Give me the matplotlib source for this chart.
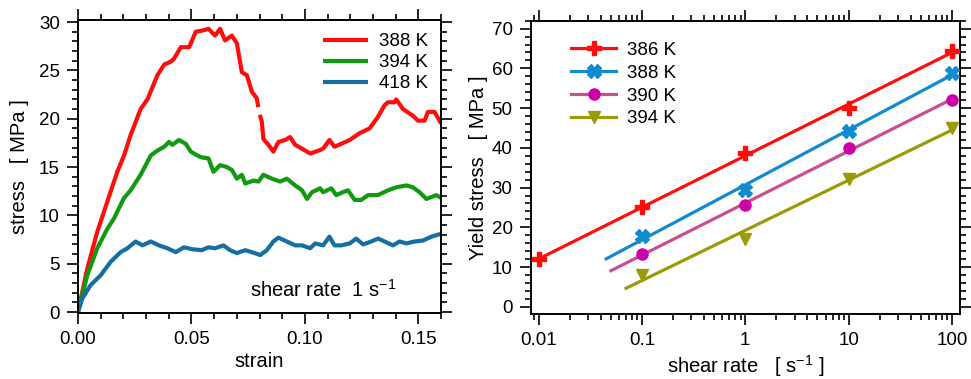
import numpy as np
import matplotlib
matplotlib.use("Agg")
import matplotlib.pyplot as plt
from matplotlib.lines import Line2D
from matplotlib.ticker import MultipleLocator, LogLocator, FixedLocator, NullFormatter

plt.rcParams['font.family'] = ['Liberation Sans', 'DejaVu Sans']

# ---- left panel: stress-strain curves at shear rate 1 s^-1 ----
strain_388 = [0, 0.0041, 0.0085, 0.0129, 0.0173, 0.0203, 0.0232, 0.0276, 0.0306, 0.035, 0.038,
              0.0409, 0.0423, 0.0453, 0.049, 0.0519, 0.0545, 0.0575, 0.0604, 0.0626, 0.0648,
              0.0678, 0.07, 0.0722, 0.0744, 0.0766, 0.0788, 0.0794, 0.0797, 0.0801, 0.081,
              0.0817, 0.0839, 0.0861,
              0.0883, 0.0913, 0.0935, 0.0957, 0.0987, 0.1023, 0.106, 0.108, 0.1108, 0.113, 0.116,
              0.1197, 0.1241, 0.1285, 0.1322, 0.1351, 0.1366, 0.1395, 0.1402, 0.1432, 0.1476,
              0.1498, 0.1527, 0.1542, 0.1571, 0.16]
stress_388 = [0, 4.5, 8.3, 11.4, 14.5, 16.2, 18.3, 21.0, 22.0, 24.5, 25.6,
              25.9, 26.2, 27.4, 27.4, 29.0, 29.1, 29.3, 28.6, 29.3, 28.1,
              28.6, 27.8, 24.8, 24.5, 22.8, 22.1, 21.2, np.nan, 20.4, 19.7,
              17.9, 17.3, 16.6,
              17.6, 17.8, 18.1, 17.3, 16.9, 16.4, 16.7, 16.9, 17.8, 17.1, 17.4,
              17.8, 18.5, 19.0, 20.2, 21.4, 21.7, 21.7, 22.0, 21.0, 20.3,
              19.8, 19.8, 20.7, 20.7, 19.5]

strain_394 = [0, 0.0041, 0.0085, 0.0129, 0.0159, 0.0188, 0.0203, 0.0232, 0.0276, 0.0321, 0.035,
              0.038, 0.0401, 0.0416, 0.0445, 0.0475, 0.0497, 0.0526, 0.0545, 0.0575, 0.0597,
              0.0626, 0.0656, 0.0678, 0.07, 0.0722, 0.0737, 0.0773, 0.0795, 0.0817, 0.0854,
              0.0891, 0.092, 0.0957, 0.0987, 0.1009, 0.1031, 0.1067, 0.108, 0.1116, 0.1138,
              0.1167, 0.119, 0.1219, 0.1248, 0.1278, 0.1322, 0.1366, 0.1402, 0.1447, 0.1476,
              0.1505, 0.1535, 0.1579, 0.16]
stress_394 = [0, 3.8, 6.6, 8.6, 9.7, 11.1, 11.8, 12.6, 14.2, 16.2, 16.7,
              17.1, 17.6, 17.3, 17.8, 17.4, 16.6, 16.2, 16.0, 15.9, 14.5,
              15.2, 15.0, 14.7, 13.8, 14.2, 13.3, 13.6, 13.5, 14.2, 13.8,
              13.5, 13.8, 13.1, 12.6, 11.7, 12.4, 12.8, 12.4, 12.8, 12.1,
              12.4, 12.6, 11.6, 11.6, 12.1, 12.1, 12.6, 12.9, 13.1, 12.9,
              12.4, 11.7, 12.1, 11.8]

strain_418 = [0, 0.0019, 0.0056, 0.01, 0.0144, 0.0188, 0.0218, 0.0254, 0.0284, 0.0321, 0.0357,
              0.0394, 0.0431, 0.0467, 0.0504, 0.0545, 0.0575, 0.0604, 0.0641, 0.067, 0.07,
              0.0737, 0.0766, 0.0803, 0.0832, 0.0861, 0.0883, 0.092, 0.0957, 0.0987, 0.1023,
              0.1045, 0.108, 0.1108, 0.113, 0.116, 0.1197, 0.1226, 0.1256, 0.1292, 0.1322,
              0.1351, 0.1388, 0.1417, 0.1447, 0.1483, 0.152, 0.1557, 0.16]
stress_418 = [0, 1.4, 2.8, 3.8, 5.2, 6.2, 6.6, 7.3, 6.9, 7.3, 6.9,
              6.6, 6.2, 6.7, 6.5, 6.4, 6.7, 6.6, 6.9, 6.4, 6.1,
              6.4, 6.2, 5.9, 6.4, 7.3, 7.7, 7.3, 6.9, 6.9, 6.6,
              7.1, 6.9, 7.8, 6.9, 6.9, 7.1, 7.6, 7.0, 7.3, 7.6,
              7.3, 6.9, 7.3, 7.1, 7.3, 7.4, 7.8, 8.1]

# ---- right panel: yield stress vs shear rate ----
rate_386 = [0.01, 0.1, 1, 10, 100]
yield_386 = [12.0, 25.0, 38.7, 50.0, 64.4]
rate_388 = [0.1, 1, 10, 100]
yield_388 = [17.8, 29.4, 44.3, 58.9]
rate_390 = [0.1, 1, 10, 100]
yield_390 = [13.2, 25.5, 39.9, 52.0]
rate_394 = [0.1, 1, 10, 100]
yield_394 = [8.0, 17.0, 32.2, 45.0]
fit_start = [0.01, 0.045, 0.05, 0.07]

RED = '#ff0d0d'
GREEN = '#129912'
BLUE = '#156fa3'
CYAN = '#108ad0'
PINK = '#c8508e'
MAGENTA = '#cc00aa'
OLIVE = '#9c9a08'

fig = plt.figure(figsize=(9.71, 3.79), dpi=100)
ax1 = fig.add_axes([0.0803, 0.174, 0.374, 0.773])
ax2 = fig.add_axes([0.5466, 0.1715, 0.4421, 0.774])

TICK_FS = 13.5
LABEL_FS = 14.5


def style_axes(ax):
    for s in ax.spines.values():
        s.set_linewidth(1.4)
    ax.tick_params(which='both', direction='out', top=True, right=True,
                   labelsize=TICK_FS, width=1.2)
    ax.tick_params(which='major', length=8, pad=5)
    ax.tick_params(which='minor', length=4.5)


lw = 3.0
ax1.plot(strain_388, stress_388, color=RED, lw=lw, label='388 K', solid_capstyle='butt')
ax1.plot(strain_394, stress_394, color=GREEN, lw=lw, label='394 K', solid_capstyle='butt')
ax1.plot(strain_418, stress_418, color=BLUE, lw=lw, label='418 K', solid_capstyle='butt')
ax1.set_xlim(0, 0.16)
ax1.set_ylim(-0.1, 30.2)
ax1.xaxis.set_major_locator(FixedLocator([0, 0.05, 0.10, 0.15]))
ax1.xaxis.set_minor_locator(MultipleLocator(0.01))
ax1.set_xticklabels(['0.00', '0.05', '0.10', '0.15'])
ax1.yaxis.set_major_locator(MultipleLocator(5))
ax1.yaxis.set_minor_locator(MultipleLocator(1))
style_axes(ax1)
ax1.set_xlabel('strain', fontsize=LABEL_FS, labelpad=3)
ax1.set_ylabel('stress   [ MPa ]', fontsize=LABEL_FS, labelpad=7)
ax1.text(0.475, 0.08, 'shear rate  1 s$^{\\mathregular{-1}}$', transform=ax1.transAxes,
         fontsize=LABEL_FS, va='center', ha='left')
ax1.legend(loc='upper right', frameon=False, fontsize=TICK_FS, handlelength=2.4,
           handletextpad=0.6, labelspacing=0.2, borderaxespad=0.3)

# right panel
series = [
    (rate_386, yield_386, '386 K', RED, RED, 'P', 10),
    (rate_388, yield_388, '388 K', CYAN, CYAN, 'X', 10),
    (rate_390, yield_390, '390 K', PINK, MAGENTA, 'o', 8),
    (rate_394, yield_394, '394 K', OLIVE, OLIVE, 'v', 9),
]
handles = []
for (rx, ry, lab, lc, mc, mk, ms), x0 in zip(series, fit_start):
    k, b = np.polyfit(np.log10(rx), ry, 1)
    xf = np.array([x0, 100])
    ax2.plot(xf, k * np.log10(xf) + b, color=lc, lw=2.3, zorder=2)
    ax2.plot(rx, ry, ls='none', marker=mk, ms=ms, color=mc, mec=mc, zorder=3)
    handles.append(Line2D([], [], color=lc, lw=2.3, marker=mk, ms=ms, mfc=mc, mec=mc, label=lab))

ax2.set_xscale('log')
ax2.set_xlim(0.00837, 120)
ax2.set_ylim(-1.8, 72)
ax2.xaxis.set_major_locator(FixedLocator([0.01, 0.1, 1, 10, 100]))
ax2.xaxis.set_minor_locator(LogLocator(base=10, subs=np.arange(2, 10), numticks=20))
ax2.xaxis.set_minor_formatter(NullFormatter())
ax2.set_xticklabels(['0.01', '0.1', '1', '10', '100'])
ax2.yaxis.set_major_locator(MultipleLocator(10))
ax2.yaxis.set_minor_locator(MultipleLocator(2))
style_axes(ax2)
ax2.set_xlabel('shear rate   [ s$^{\\mathregular{-1}}$ ]', fontsize=LABEL_FS, labelpad=3)
ax2.set_ylabel('Yield stress   [ MPa ]', fontsize=LABEL_FS, labelpad=3)
ax2.legend(handles=handles, loc='upper left', frameon=False, fontsize=TICK_FS,
           handlelength=2.4, handletextpad=0.6, labelspacing=0.3,
           bbox_to_anchor=(0.055, 0.985))

fig.savefig('out.png', dpi=100)
